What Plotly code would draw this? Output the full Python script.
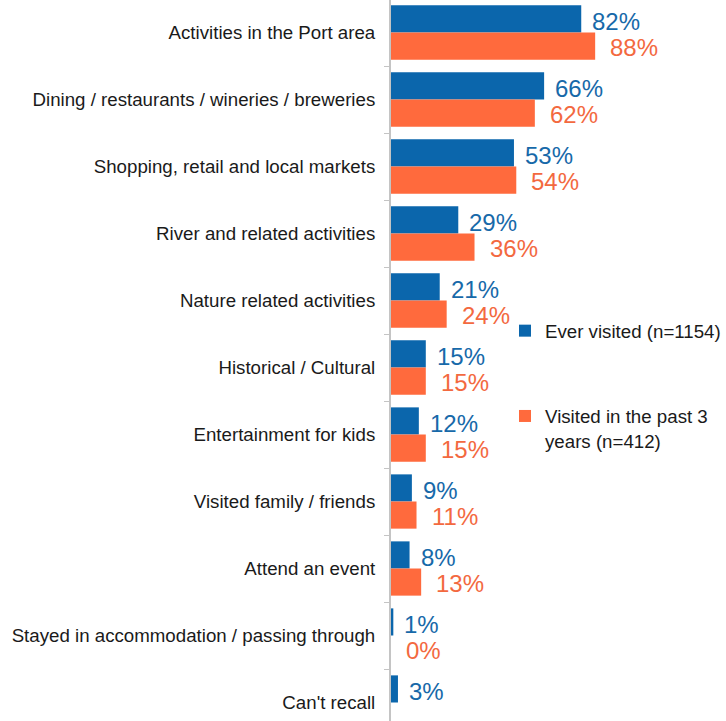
import plotly.graph_objects as go

# Survey: activities done in the area (% of respondents)
categories = [
    "Activities in the Port area",
    "Dining / restaurants / wineries / breweries",
    "Shopping, retail and local markets",
    "River and related activities",
    "Nature related activities",
    "Historical / Cultural",
    "Entertainment for kids",
    "Visited family / friends",
    "Attend an event",
    "Stayed in accommodation / passing through",
    "Can't recall",
]
ever_visited = [82, 66, 53, 29, 21, 15, 12, 9, 8, 1, 3]
past_3_years = [88, 62, 54, 36, 24, 15, 15, 11, 13, 0, None]

series_names = ["Ever visited (n=1154)", "Visited in the past 3<br>years (n=412)"]

BLUE = "#0b66ac"
ORANGE = "#ff6a3d"
BLUE_TXT = "#1769a9"
ORANGE_TXT = "#f3693f"
FONT = "Liberation Sans, Arial, sans-serif"

W, H = 726, 721
LEFT = 391
PX_PER_PCT = 2.32
PX_PER_CAT = 67.0

fig = go.Figure()
for name, vals, col, grp in [
    (series_names[0], ever_visited, BLUE, "a"),
    (series_names[1], past_3_years, ORANGE, "b"),
]:
    fig.add_trace(go.Bar(
        y=categories, x=vals, name=name, orientation="h",
        marker=dict(color=col, line=dict(color=col, width=0)),
        legendgroup=grp,
    ))

# Value labels beside the bars
annotations = []
for vals, col, yshift, xshift in [
    (ever_visited, BLUE_TXT, 11, 9),
    (past_3_years, ORANGE_TXT, -14.5, 13),
]:
    for cat, v in zip(categories, vals):
        if v is None:
            continue
        annotations.append(dict(
            x=v, y=cat, xref="x", yref="y", text=f"{v}%", showarrow=False,
            xanchor="left", yanchor="middle", xshift=xshift, yshift=yshift,
            font=dict(family=FONT, size=24, color=col),
        ))

top_idx = -0.5 + 1.0 / PX_PER_CAT
bottom_idx = top_idx + H / PX_PER_CAT

fig.update_layout(
    width=W, height=H,
    margin=dict(l=LEFT, r=0, t=0, b=0),
    paper_bgcolor="white", plot_bgcolor="white",
    barmode="group", bargap=0.19, bargroupgap=0,
    font=dict(family=FONT, size=18.7, color="#1a1a1a"),
    showlegend=True,
    legend=dict(
        x=1, y=1 - 312 / H,
        xanchor="right", yanchor="top",
        traceorder="grouped", tracegroupgap=58, valign="top",
        font=dict(family=FONT, size=18.7, color="#1a1a1a"),
        bgcolor="rgba(0,0,0,0)", itemwidth=30, borderwidth=0,
    ),
    annotations=annotations,
)
fig.update_xaxes(visible=False, range=[0, (W - LEFT) / PX_PER_PCT])
fig.update_yaxes(
    type="category", categoryorder="array", categoryarray=categories,
    range=[bottom_idx, top_idx],
    showline=True, linecolor="#c4c4c4", linewidth=2,
    ticks="outside", tickson="boundaries", ticklen=5, tickcolor="#c4c4c4",
    tickwidth=1, showgrid=False, ticklabelstandoff=10,
    tickfont=dict(family=FONT, size=18.7, color="#1a1a1a"),
)

fig.write_html("out.html")
